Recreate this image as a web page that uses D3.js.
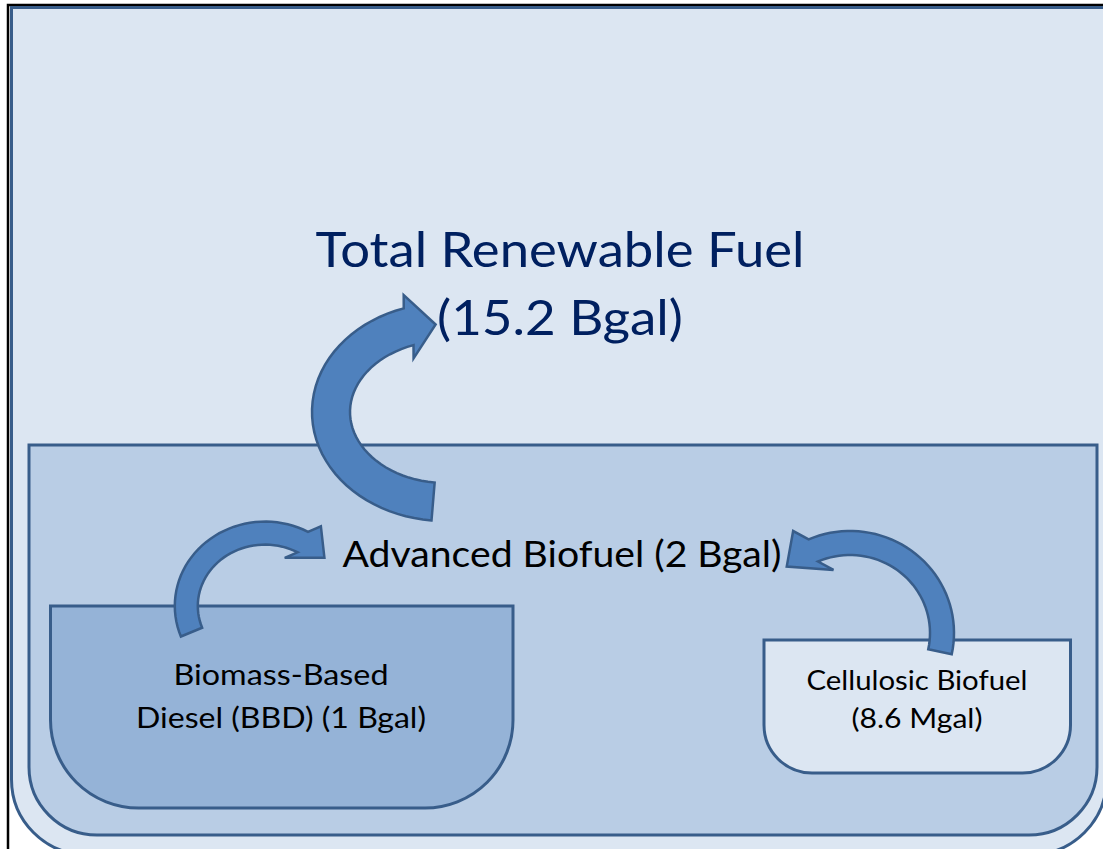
<!DOCTYPE html>
<html>
<head>
<meta charset="utf-8">
<script src="https://cdn.jsdelivr.net/npm/d3@7"></script>
<style>
    body { margin: 0; background: #fff; overflow: hidden; }
    svg { display: block; }
</style>
</head>
<body>
<div id="diagram-container"></div>
<script>
// RFS volume categories (nested: Total > Advanced > BBD / Cellulosic)
const fuelNames = ["Total Renewable Fuel", "Advanced Biofuel", "Biomass-Based Diesel (BBD)", "Cellulosic Biofuel"];
const fuelVolumes = [15.2, 2, 1, 8.6];
const fuelUnits = ["Bgal", "Bgal", "Bgal", "Mgal"];
const firstLineWords = [3, 0, 1, 2]; // words on first line, 0 = single line
const arrowFlows = [[2, 1], [3, 1], [1, 0]]; // from -> to

function diagram() {
    const width = 1103;
    const height = 849;

    const svg = d3.select("#diagram-container")
        .append("svg")
        .attr("width", width)
        .attr("height", height);

    const stroke = "#385d8a";

    // box layout per category (top corners square, bottom corners rounded)
    const boxes = [
        { x: 11.5, y: 7.5, w: 1095, h: 847, r: 75, fill: "#dce6f2" },
        { x: 29, y: 445, w: 1068, h: 390, r: 68, fill: "#b9cde5" },
        { x: 50.5, y: 606, w: 462.5, h: 202, r: 88, fill: "#95b3d7" },
        { x: 764, y: 640, w: 306.5, h: 133, r: 48, fill: "#dce6f2" }
    ];

    // label layout per category
    const labelPos = [
        { cx: 560, y: 267, size: 49, lead: 68, fits: [489, 246], color: "#002060" },
        { cx: 562, y: 567, size: 37, lead: 0, fits: [439], color: "#000" },
        { cx: 281, y: 685, size: 29, lead: 43, fits: [215, 290], color: "#000" },
        { cx: 917, y: 690, size: 26, lead: 38, fits: [221, 131], color: "#000" }
    ];

    // arrow geometry per flow (elliptical centre line, angles in degrees)
    const arrowGeom = [
        { cx: 265, cy: 606, rx: 78.7, ry: 72.9, t0: 159, t1: 298.7, w: 23, hw: 24, len: 26, shift: 6, tilt: 22 },
        { cx: 850, cy: 633, rx: 92, ry: 90, t0: 12, t1: -113.5, w: 24, hw: 28, len: 30, shift: 8, tilt: -23 },
        { cx: 445, cy: 412, rx: 114, ry: 90, t0: 96, t1: 251.4, w: 38, hw: 32, len: 27, shift: -2, tilt: 6 }
    ];

    function boxPath(b) {
        const p = d3.path();
        p.moveTo(b.x, b.y);
        p.lineTo(b.x + b.w, b.y);
        p.lineTo(b.x + b.w, b.y + b.h - b.r);
        p.arcTo(b.x + b.w, b.y + b.h, b.x + b.w - b.r, b.y + b.h, b.r);
        p.lineTo(b.x + b.r, b.y + b.h);
        p.arcTo(b.x, b.y + b.h, b.x, b.y + b.h - b.r, b.r);
        p.closePath();
        return p.toString();
    }

    function arrowPath(g) {
        const rad = Math.PI / 180;
        const pt = t => [g.cx + g.rx * Math.cos(t), g.cy + g.ry * Math.sin(t)];
        const nrm = t => {
            const nx = Math.cos(t) / g.rx, ny = Math.sin(t) / g.ry;
            const l = Math.hypot(nx, ny);
            return [nx / l, ny / l];
        };
        const ts = d3.range(0, 41).map(i => (g.t0 + (g.t1 - g.t0) * i / 40) * rad);
        const outer = ts.map(t => { const p = pt(t), n = nrm(t); return [p[0] + n[0] * g.w / 2, p[1] + n[1] * g.w / 2]; });
        const inner = ts.map(t => { const p = pt(t), n = nrm(t); return [p[0] - n[0] * g.w / 2, p[1] - n[1] * g.w / 2]; });

        const tEnd = g.t1 * rad;
        const mid = pt(tEnd);
        const n0 = nrm(tEnd);
        const a = g.tilt * rad;
        const n = [n0[0] * Math.cos(a) - n0[1] * Math.sin(a), n0[0] * Math.sin(a) + n0[1] * Math.cos(a)];
        const dir = Math.sign(g.t1 - g.t0);
        const d = [-n[1] * dir, n[0] * dir];
        const barbOut = [mid[0] + n[0] * g.hw, mid[1] + n[1] * g.hw];
        const barbIn = [mid[0] - n[0] * g.hw, mid[1] - n[1] * g.hw];
        const tip = [mid[0] + d[0] * g.len + n[0] * g.shift, mid[1] + d[1] * g.len + n[1] * g.shift];

        const pts = outer.concat([barbOut, tip, barbIn], inner.reverse());
        return d3.line()(pts) + "Z";
    }

    // image frame
    svg.append("rect")
        .attr("x", 8).attr("y", 5)
        .attr("width", 1200).attr("height", 900)
        .attr("fill", "none")
        .attr("stroke", "#000")
        .attr("stroke-width", 2.5);

    svg.selectAll("path.box")
        .data(boxes)
        .join("path")
        .attr("class", "box")
        .attr("d", d => boxPath(d))
        .attr("fill", d => d.fill)
        .attr("stroke", stroke)
        .attr("stroke-width", 3);

    svg.selectAll("path.arrow")
        .data(arrowFlows.map((f, i) => ({ from: f[0], to: f[1], geom: arrowGeom[i] })))
        .join("path")
        .attr("class", "arrow")
        .attr("d", d => arrowPath(d.geom))
        .attr("fill", "#4f81bd")
        .attr("stroke", stroke)
        .attr("stroke-width", 2.5)
        .attr("stroke-linejoin", "miter");

    // labels
    fuelNames.forEach((name, i) => {
        const words = `${name} (${fuelVolumes[i]} ${fuelUnits[i]})`.split(" ");
        const k = firstLineWords[i];
        const lines = k ? [words.slice(0, k).join(" "), words.slice(k).join(" ")] : [words.join(" ")];
        const lp = labelPos[i];

        lines.forEach((line, j) => {
            const t = svg.append("text")
                .attr("x", lp.cx)
                .attr("y", lp.y + j * lp.lead)
                .attr("text-anchor", "middle")
                .style("font-family", "Lato, 'Open Sans', sans-serif")
                .style("font-size", `${lp.size}px`)
                .style("fill", lp.color)
                .text(line);
            const natural = t.node().getComputedTextLength();
            if (Math.abs(natural - lp.fits[j]) > 3) {
                t.attr("textLength", lp.fits[j]).attr("lengthAdjust", "spacingAndGlyphs");
            }
        });
    });
}

diagram();
</script>
</body>
</html>
